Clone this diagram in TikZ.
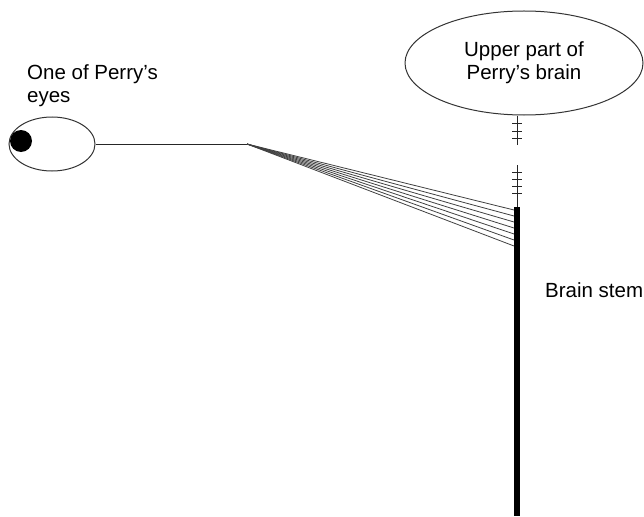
\documentclass[tikz,border=0pt]{standalone}
\usepackage{fontspec}
\setmainfont{Liberation Sans}
\usetikzlibrary{shapes.geometric,calc}

\begin{document}
\begin{tikzpicture}[
    x=1pt,
    y=-1pt,
    font=\fontsize{20.5}{23}\selectfont,
    organ/.style={
        ellipse,
        draw=black!80,
        line width=1pt,
        inner sep=0pt,
        align=center
    },
    pupil/.style={
        circle,
        fill=black,
        minimum size=22pt,
        inner sep=0pt
    },
    nerve/.style={line width=1pt, draw=black!85},
    fibre/.style={line width=0.8pt, draw=black!75},
    stem/.style={line width=6pt, draw=black},
    notch/.style={line width=1pt, draw=black!85},
    label/.style={inner sep=0pt, align=left}
]

\useasboundingbox (0,0) rectangle (644,516);

\node[organ, minimum width=86pt, minimum height=54pt] (eye) at (52,144) {};
\node[pupil] (pupil) at (21,141) {};
\node[label, anchor=north west] (eyetext) at (27,64) {One of Perry's\\eyes};

\node[organ, minimum width=238pt, minimum height=104pt] (brain) at (524,63)
    {Upper part of\\Perry's brain};

\coordinate (stemtop) at (517,207);
\coordinate (stembottom) at (517,516);
\coordinate (fanroot) at (247,144);
\coordinate (gaptop) at (517,145);
\coordinate (gapbottom) at (517,165);

\draw[stem] (stemtop) -- (stembottom);
\node[label, anchor=base west] (stemtext) at (545,297) {Brain stem};

\draw[nerve] (eye.east) -- (fanroot);
\foreach \i in {0,...,6}
    \draw[fibre] (fanroot) -- ($(stemtop)+(-3,3+6*\i)$);

\draw[nerve] (brain.south -| stemtop) -- (gaptop);
\foreach \t in {123,131,138}
    \draw[notch] ($(gaptop |- 0,\t)+(-5,0)$) -- ++(10,0);
\draw[nerve] (gapbottom) -- (stemtop);
\foreach \t in {172,179,186,193}
    \draw[notch] ($(gapbottom |- 0,\t)+(-5,0)$) -- ++(10,0);

\end{tikzpicture}
\end{document}
